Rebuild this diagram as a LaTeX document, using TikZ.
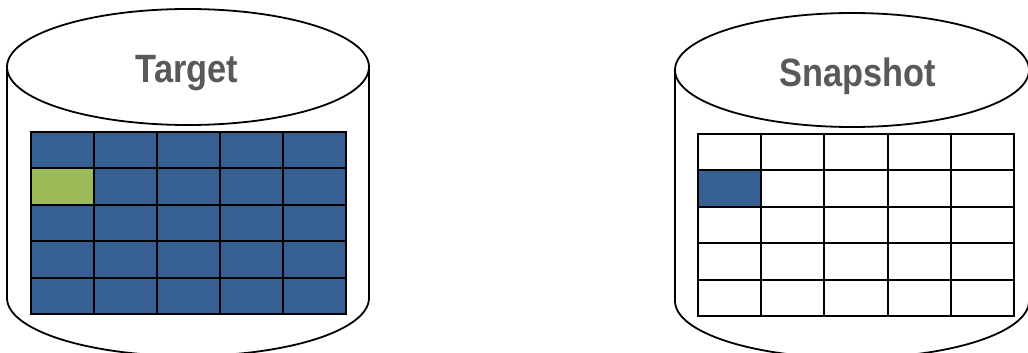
\documentclass[tikz,border=0pt]{standalone}
\usepackage{fontspec}
\newfontfamily\labelfont[FakeStretch=0.87]{Liberation Sans}
\definecolor{cellblue}{HTML}{366092}
\definecolor{cellgreen}{HTML}{9BBB59}
\definecolor{labelgray}{HTML}{595959}

\begin{document}
\begin{tikzpicture}[x=1pt,y=-1pt,
  outline/.style={line width=1.8pt},
  gridline/.style={line width=2pt},
  dbtitle/.style={font=\labelfont\bfseries\fontsize{39.5}{39.5}\selectfont,text=labelgray,anchor=base,inner sep=0pt}]
\useasboundingbox (0,0) rectangle (1028,353);
% target cylinder
\draw[outline] (7,67) -- (7,298) arc[start angle=180,end angle=0,x radius=181,y radius=58] -- (369,67);
\draw[outline,fill=white] (188,67) ellipse[x radius=181,y radius=58];
\node[dbtitle] (target) at (187,82) {Target};
\fill[cellblue] (31,132) rectangle (346,314);
\fill[cellgreen] (31,168) rectangle (94,205);
\foreach \x in {31,94,157,220,283,346} {\draw[gridline] (\x,131) -- (\x,315);}
\foreach \y in {132,168,205,241,278,314} {\draw[gridline] (30,\y) -- (347,\y);}
% snapshot cylinder
\draw[outline] (675,70) -- (675,301) arc[start angle=180,end angle=0,x radius=177,y radius=57] -- (1029,70);
\draw[outline,fill=white] (852,70) ellipse[x radius=177,y radius=57];
\node[dbtitle] (snapshot) at (858,87) {Snapshot};
\fill[cellblue] (698,170) rectangle (761,207);
\foreach \x in {698,761,824,888,951,1014} {\draw[gridline] (\x,133) -- (\x,317);}
\foreach \y in {134,170,207,243,280,316} {\draw[gridline] (697,\y) -- (1015,\y);}
\end{tikzpicture}
\end{document}
